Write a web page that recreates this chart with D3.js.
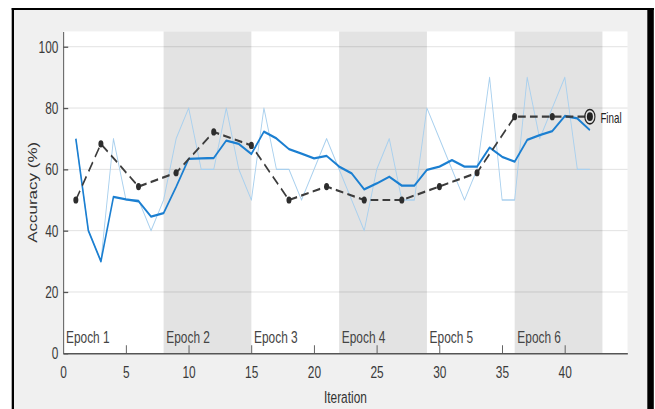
<!DOCTYPE html>
<html>
<head>
<meta charset="utf-8">
<script src="https://cdn.jsdelivr.net/npm/d3@7"></script>
<style>
  html, body { margin: 0; padding: 0; background: #fff; overflow: hidden; }
  svg { display: block; }
</style>
</head>
<body>
<svg id="chart" width="655" height="409"></svg>
<script>
// Training progress: per-iteration accuracy, smoothed accuracy and validation checks
const iterations = d3.range(1, 43);
const trainAcc = [70, 40, 30, 70, 50, 50, 40, 50, 70, 80, 60, 60, 80, 60,
                  50, 80, 60, 60, 50, 60, 70, 60, 50, 40, 60, 70, 50, 50,
                  80, 70, 60, 50, 60, 90, 50, 50, 90, 70, 80, 90, 60, 60];
const smoothAcc = [70, 40, 30, 51, 50.2, 49.6, 44.6, 45.7, 54.3, 63.4, 63.6, 63.7, 69.4, 68.3,
                   65.0, 72.3, 70.1, 66.6, 65.1, 63.6, 64.4, 60.9, 58.7, 53.5, 55.4, 57.6, 54.7, 54.7,
                   59.8, 60.9, 63.0, 60.9, 60.9, 67.1, 64.1, 62.5, 69.6, 71.2, 72.5, 77.4, 76.6, 72.8];
const valIter = [1, 3, 6, 9, 12, 15, 18, 21, 24, 27, 30, 33, 36, 39, 42];
const valAcc = [50, 68.3, 54.4, 58.9, 72.2, 67.8, 50, 54.4, 50, 50, 54.4, 58.9, 77.2, 77.2, 77.2];
const epochNames = ["Epoch 1", "Epoch 2", "Epoch 3", "Epoch 4", "Epoch 5", "Epoch 6"];
const epochStart = [0, 8, 15, 22, 29, 36];
const epochEnd = 43;
const xTicks = [0, 5, 10, 15, 20, 25, 30, 35, 40];
const yTicks = [0, 20, 40, 60, 80, 100];
const finalLabel = "Final";

// The figure is drawn in a wider coordinate space and compressed horizontally
const SX = 0.7;
const W = 655 / SX, H = 409;
const ox = v => v / SX;

const svg = d3.select("#chart")
  .attr("viewBox", `0 0 ${W} ${H}`)
  .attr("preserveAspectRatio", "none");

const L = ox(63.3), R = ox(627.5), T = 31.4, B = 353.3;
const x = d3.scaleLinear().domain([0, 45]).range([L, R]);
const y = d3.scaleLinear().domain([0, 105]).range([B, T]);
const FONT = "'Liberation Sans', Arial, Helvetica, sans-serif";

// window frame
svg.append("rect").attr("x", 0).attr("y", 0).attr("width", W).attr("height", H).attr("fill", "#fff");
svg.append("rect").attr("x", ox(13)).attr("y", 9).attr("width", ox(647.5 - 13)).attr("height", H)
  .attr("fill", "#f0f0f0");
svg.append("rect").attr("x", ox(11.7)).attr("y", 8).attr("width", ox(2.3)).attr("height", H).attr("fill", "#000");
svg.append("rect").attr("x", ox(11.7)).attr("y", 8).attr("width", ox(654 - 11.7)).attr("height", 2).attr("fill", "#000");
svg.append("rect").attr("x", ox(647.3)).attr("y", 8).attr("width", ox(6.5)).attr("height", H).attr("fill", "#000");

// plot area and epoch bands
svg.append("rect").attr("x", L).attr("y", T).attr("width", R - L).attr("height", B - T).attr("fill", "#fff");
const epochs = epochNames.map((name, i) => ({
  name, start: epochStart[i], end: i + 1 < epochStart.length ? epochStart[i + 1] : epochEnd, i
}));
svg.append("g").selectAll("rect")
  .data(epochs.filter(d => d.i % 2 === 1))
  .join("rect")
  .attr("x", d => x(d.start)).attr("y", T)
  .attr("width", d => x(d.end) - x(d.start)).attr("height", B - T)
  .attr("fill", "#e3e3e3");

// horizontal grid
svg.append("g").selectAll("line")
  .data(yTicks.filter(t => t > 0))
  .join("line")
  .attr("x1", L).attr("x2", R)
  .attr("y1", d => y(d)).attr("y2", d => y(d))
  .attr("stroke", "#000").attr("stroke-opacity", 0.14).attr("stroke-width", 1);

// epoch labels
svg.append("g").selectAll("text")
  .data(epochs)
  .join("text")
  .attr("x", d => x(d.start) + ox(2.7)).attr("y", 342.7)
  .attr("font-family", FONT).attr("font-size", 17).attr("fill", "#444")
  .text(d => d.name);

// series
const line = d3.line().x(d => x(d[0])).y(d => y(d[1]));
svg.append("path")
  .datum(iterations.map((it, i) => [it, trainAcc[i]]))
  .attr("d", line).attr("fill", "none")
  .attr("stroke", "#a9d0ee").attr("stroke-width", 1.3).attr("stroke-linejoin", "round");
svg.append("path")
  .datum(iterations.map((it, i) => [it, smoothAcc[i]]))
  .attr("d", line).attr("fill", "none")
  .attr("stroke", "#1b7fd1").attr("stroke-width", 2.3).attr("stroke-linejoin", "round");

const valPts = valIter.map((it, i) => [it, valAcc[i]]);
svg.append("path")
  .datum(valPts)
  .attr("d", line).attr("fill", "none")
  .attr("stroke", "#3c3c3c").attr("stroke-width", 2.2).attr("stroke-dasharray", "11,6");
svg.append("g").selectAll("circle")
  .data(valPts.slice(0, -1))
  .join("circle")
  .attr("cx", d => x(d[0])).attr("cy", d => y(d[1])).attr("r", 3.6)
  .attr("fill", "#2d2d2d");

// final validation marker
const last = valPts[valPts.length - 1];
svg.append("circle").attr("cx", x(last[0])).attr("cy", y(last[1])).attr("r", 7.2)
  .attr("fill", "none").attr("stroke", "#222").attr("stroke-width", 1.6);
svg.append("circle").attr("cx", x(last[0])).attr("cy", y(last[1])).attr("r", 4.3).attr("fill", "#222");
svg.append("text")
  .attr("x", x(last[0]) + ox(10.5)).attr("y", y(last[1]) + 6.5)
  .attr("font-family", FONT).attr("font-size", 14).attr("fill", "#222")
  .text(finalLabel);

// axes
const xAxis = svg.append("g").attr("transform", `translate(0,${B})`)
  .call(d3.axisBottom(x).tickValues(xTicks).tickSizeInner(-8).tickSizeOuter(0).tickPadding(12.5));
const yAxis = svg.append("g").attr("transform", `translate(${L},0)`)
  .call(d3.axisLeft(y).tickValues(yTicks).tickSizeInner(-7).tickSizeOuter(0).tickPadding(7));
[xAxis, yAxis].forEach(g => {
  g.select(".domain").attr("stroke", "#555").attr("stroke-width", 1.4);
  g.selectAll(".tick line").attr("stroke", "#555").attr("stroke-width", 1.3);
  g.selectAll(".tick text").attr("font-family", FONT).attr("font-size", 17).attr("fill", "#3a3a3a");
});
xAxis.selectAll(".tick").filter(d => d === 0).select("line").remove();

// axis titles
svg.append("text")
  .attr("x", (L + R) / 2).attr("y", 403)
  .attr("text-anchor", "middle")
  .attr("font-family", FONT).attr("font-size", 17).attr("fill", "#333")
  .text("Iteration");
svg.append("text")
  .attr("transform", `translate(${ox(37)},${(T + B) / 2}) rotate(-90)`)
  .attr("text-anchor", "middle")
  .attr("font-family", FONT).attr("font-size", 17).attr("fill", "#333")
  .text("Accuracy (%)");
</script>
</body>
</html>
